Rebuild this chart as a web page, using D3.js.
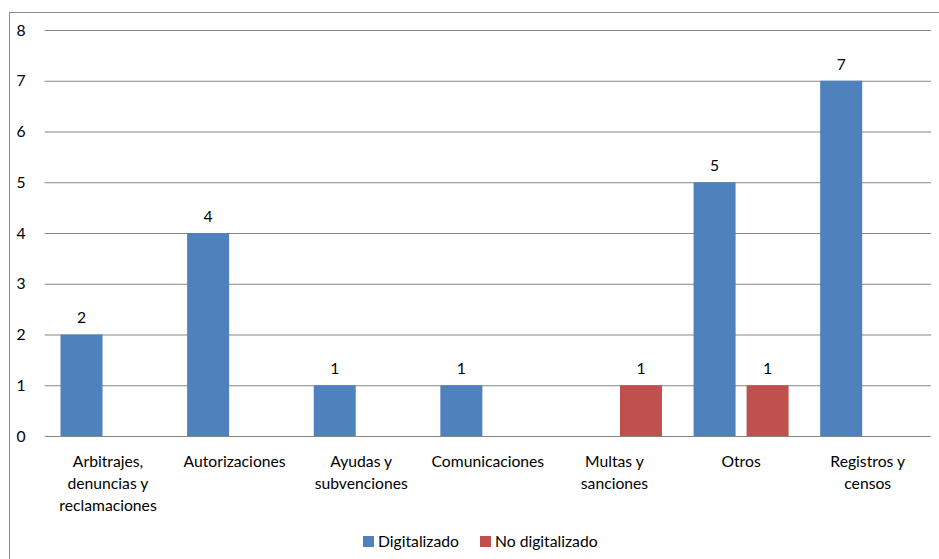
<!DOCTYPE html>
<html>
<head>
<meta charset="utf-8">
<script src="https://cdn.jsdelivr.net/npm/d3@7"></script>
<style>
  html, body { margin: 0; padding: 0; background: #fff; }
  svg { display: block; }
  text { font-family: Lato, "Open Sans", sans-serif; fill: #000; }
</style>
</head>
<body>
<svg id="chart" width="939" height="559"></svg>
<script>
const categories = [
  "Arbitrajes,\ndenuncias y\nreclamaciones",
  "Autorizaciones",
  "Ayudas y\nsubvenciones",
  "Comunicaciones",
  "Multas y\nsanciones",
  "Otros",
  "Registros y\ncensos"
];
const seriesNames = ["Digitalizado", "No digitalizado"];
const digitalizado   = [2, 4, 1, 1, null, 5, 7];
const noDigitalizado = [null, null, null, null, 1, 1, null];
const seriesColors = ["#4F81BD", "#C0504D"];
const yTicks = [0, 1, 2, 3, 4, 5, 6, 7, 8];

const svg = d3.select("#chart");
const fontSize = 15.7;

// frame
svg.append("rect")
  .attr("x", 9.5).attr("y", 12.5)
  .attr("width", 1000).attr("height", 1000)
  .attr("fill", "none").attr("stroke", "#8c8c8c").attr("stroke-width", 1);

const plot = { left: 44.7, right: 931, top: 30, bottom: 436 };

const x0 = d3.scaleBand().domain(d3.range(categories.length))
  .range([plot.left, plot.right]).paddingInner(0).paddingOuter(0);
const x1 = d3.scaleBand().domain(d3.range(seriesNames.length))
  .range([0, x0.bandwidth()]).paddingInner(0.2075).paddingOuter(0.298);
const y = d3.scaleLinear().domain([0, 8]).range([plot.bottom, plot.top]);

// gridlines via axis
const yAxis = d3.axisLeft(y).tickValues(yTicks)
  .tickSize(-(plot.right - plot.left)).tickFormat(d3.format("d")).tickPadding(19);
const gy = svg.append("g").attr("transform", `translate(${plot.left},0)`).call(yAxis);
gy.select(".domain").remove();
gy.selectAll(".tick line").attr("stroke", "#868686").attr("stroke-width", 1.2);
gy.selectAll(".tick text")
  .attr("font-family", "Lato, 'Open Sans', sans-serif")
  .attr("font-size", fontSize).attr("fill", "#000");

const series = [digitalizado, noDigitalizado];

// bars
series.forEach((vals, si) => {
  const g = svg.append("g");
  const data = vals.map((v, i) => ({ i, v })).filter(d => d.v != null);
  g.selectAll("rect").data(data).join("rect")
    .attr("x", d => x0(d.i) + x1(si))
    .attr("width", x1.bandwidth())
    .attr("y", d => y(d.v))
    .attr("height", d => y(0) - y(d.v))
    .attr("fill", seriesColors[si]);
  g.selectAll("text").data(data).join("text")
    .attr("x", d => x0(d.i) + x1(si) + x1.bandwidth() / 2)
    .attr("y", d => y(d.v) - 16.5)
    .attr("dy", "0.35em")
    .attr("text-anchor", "middle")
    .attr("font-size", fontSize)
    .text(d => d.v);
});

// category labels
const xl = svg.append("g");
categories.forEach((c, i) => {
  const lines = c.split("\n");
  const t = xl.append("text")
    .attr("text-anchor", "middle")
    .attr("font-size", fontSize);
  lines.forEach((ln, k) => {
    t.append("tspan")
      .attr("x", x0(i) + x0.bandwidth() / 2)
      .attr("y", 461.7 + k * 21.7)
      .attr("dy", "0.35em")
      .text(ln);
  });
});

// legend
const legendItems = [
  { name: seriesNames[0], color: seriesColors[0], x: 363 },
  { name: seriesNames[1], color: seriesColors[1], x: 480 }
];
const lg = svg.append("g");
legendItems.forEach(it => {
  lg.append("rect").attr("x", it.x).attr("y", 536)
    .attr("width", 11).attr("height", 11).attr("fill", it.color);
  lg.append("text").attr("x", it.x + 15).attr("y", 541.7)
    .attr("dy", "0.35em").attr("font-size", fontSize).text(it.name);
});
</script>
</body>
</html>
